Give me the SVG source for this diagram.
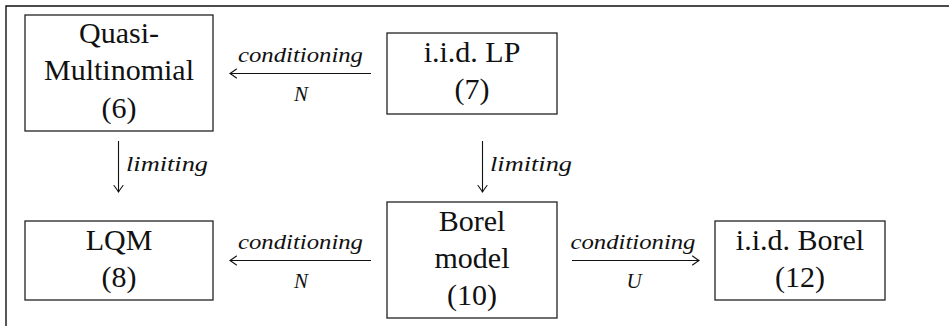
<svg xmlns="http://www.w3.org/2000/svg" width="949" height="326" viewBox="0 0 949 326">
  <defs>
    <style>
      .frame { fill: none; stroke: #111; stroke-width: 1.4; }
      .box { fill: #fff; stroke: #222; stroke-width: 1.3; }
      .node-text { font-size: 30px; fill: #111; text-anchor: middle; }
      .label { font-style: italic; font-size: 21px; fill: #111; text-anchor: middle; }
      .side-label { font-style: italic; font-size: 21px; fill: #111; text-anchor: start; }
      .edge { fill: none; stroke: #111; stroke-width: 1.1; marker-end: url(#to); }
    </style>
    <!-- curved-barb arrowhead -->
    <marker id="to" viewBox="-8 -6 10 12" refX="0" refY="0" markerWidth="10" markerHeight="12" markerUnits="userSpaceOnUse" orient="auto">
      <path d="M -6.5,-4.5 Q -2,-1.2 0,0 Q -2,1.2 -6.5,4.5" fill="none" stroke="#111" stroke-width="1.1" stroke-linecap="round"/>
    </marker>
  </defs>

  <rect width="949" height="326" fill="#fff"/>

  <!-- page frame (top and left rules) -->
  <path class="frame" d="M 6,326 L 6,6 L 949,6"/>

  <g font-family="'Liberation Serif', 'Times New Roman', Times, 'Noto Serif', 'DejaVu Serif', FreeSerif, Tinos, 'Nimbus Roman', serif">
  <g id="quasi-multinomial">
    <rect class="box" x="25" y="15" width="188" height="116"/>
    <text class="node-text" x="119" y="43">Quasi-</text>
    <text class="node-text" x="119" y="80">Multinomial</text>
    <text class="node-text" x="119" y="118">(6)</text>
  </g>

  <g id="iid-lp">
    <rect class="box" x="387" y="33" width="170" height="81"/>
    <text class="node-text" x="472" y="62">i.i.d. LP</text>
    <text class="node-text" x="472" y="99">(7)</text>
  </g>

  <g id="lqm">
    <rect class="box" x="25" y="221" width="188" height="79"/>
    <text class="node-text" x="119" y="250">LQM</text>
    <text class="node-text" x="119" y="287">(8)</text>
  </g>

  <g id="borel-model">
    <rect class="box" x="387" y="202" width="170" height="116"/>
    <text class="node-text" x="472" y="231">Borel</text>
    <text class="node-text" x="472" y="268">model</text>
    <text class="node-text" x="472" y="305">(10)</text>
  </g>

  <g id="iid-borel">
    <rect class="box" x="715" y="221" width="170" height="79"/>
    <text class="node-text" x="800" y="250">i.i.d. Borel</text>
    <text class="node-text" x="800" y="287">(12)</text>
  </g>

  <g id="connectors">
    <!-- i.i.d. LP to Quasi-Multinomial -->
    <line class="edge" x1="371" y1="73.5" x2="230" y2="73.5"/>
    <text class="label" x="300.5" y="62" textLength="125" lengthAdjust="spacingAndGlyphs">conditioning</text>
    <text class="label" x="301" y="101">N</text>

    <!-- Borel model to LQM -->
    <line class="edge" x1="371" y1="260.5" x2="230" y2="260.5"/>
    <text class="label" x="300.5" y="249" textLength="125" lengthAdjust="spacingAndGlyphs">conditioning</text>
    <text class="label" x="301" y="288">N</text>

    <!-- Borel model to i.i.d. Borel -->
    <line class="edge" x1="572" y1="260.5" x2="699" y2="260.5"/>
    <text class="label" x="633" y="249" textLength="125" lengthAdjust="spacingAndGlyphs">conditioning</text>
    <text class="label" x="634" y="288">U</text>

    <!-- Quasi-Multinomial to LQM -->
    <line class="edge" x1="118.5" y1="141" x2="118.5" y2="192"/>
    <text class="side-label" x="126" y="171" textLength="82" lengthAdjust="spacingAndGlyphs">limiting</text>

    <!-- i.i.d. LP to Borel model -->
    <line class="edge" x1="482.5" y1="141" x2="482.5" y2="192"/>
    <text class="side-label" x="490" y="171" textLength="82" lengthAdjust="spacingAndGlyphs">limiting</text>
  </g>
  </g>
</svg>
